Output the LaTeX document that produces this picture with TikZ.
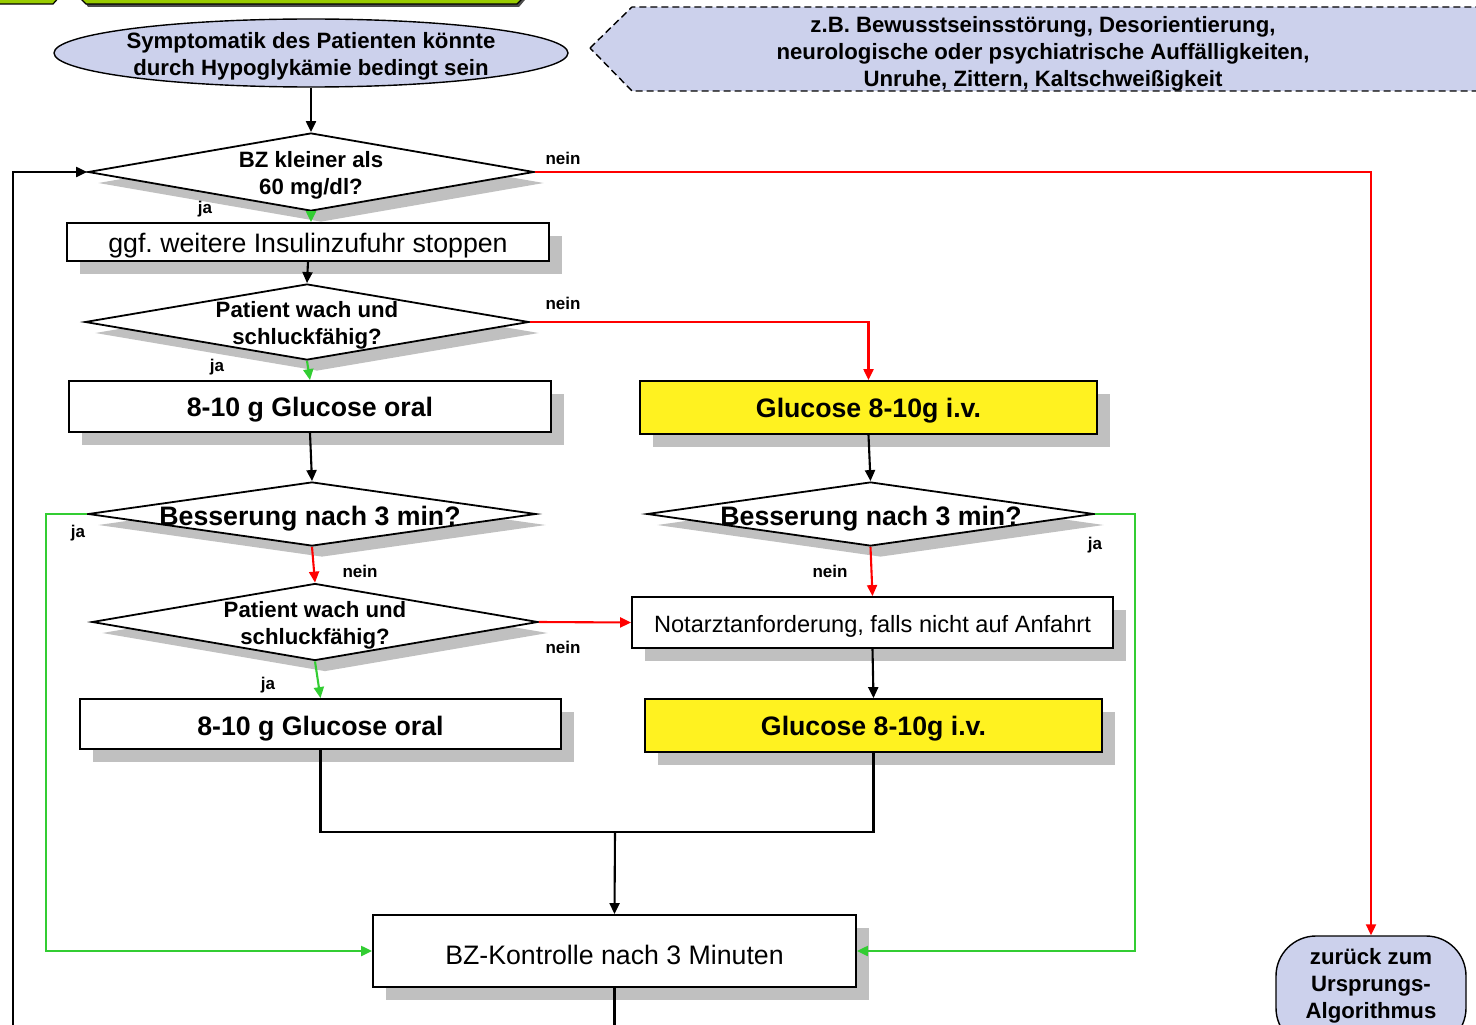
\documentclass[tikz,border=0pt]{standalone}
\usepackage{fontspec}
\setmainfont{Liberation Sans}
\usetikzlibrary{arrows.meta,shapes.geometric,shadows}
\frenchspacing

\definecolor{lav}{RGB}{204,209,236}
\definecolor{shade}{RGB}{192,192,192}
\definecolor{yel}{RGB}{255,242,32}
\definecolor{grn}{RGB}{50,205,50}
\definecolor{leaf}{RGB}{153,204,0}
\definecolor{rd}{RGB}{255,0,0}

\tikzset{
  conn/.style={line width=2.1pt, -{Triangle[length=11pt,width=10pt]}},
  wire/.style={line width=2.1pt},
  no/.style={conn, draw=rd},
  ok/.style={conn, draw=grn},
  box/.style={draw, line width=1.8pt, fill=white, inner sep=0pt,
    drop shadow={opacity=1, fill=shade, shadow xshift=13pt, shadow yshift=-13pt}},
  dia/.style={diamond, draw, line width=1.8pt, fill=white, inner sep=0pt,
    drop shadow={opacity=1, fill=shade, shadow xshift=10pt, shadow yshift=-11pt}},
  txt/.style={align=center, inner sep=0pt, yshift=-3.5pt},
  bigb/.style={txt, font=\fontsize{26.7}{32}\selectfont\bfseries},
  bigr/.style={txt, font=\fontsize{26.7}{32}\selectfont},
  midb/.style={txt, font=\fontsize{22.2}{27}\selectfont\bfseries},
  lbl/.style={font=\fontsize{17}{20}\selectfont\bfseries},
}

\begin{document}
\begin{tikzpicture}[x=1pt, y=-1pt]
\useasboundingbox (0,0) rectangle (1476,1025);
\clip (0,0) rectangle (1476,1025);

% header tabs running off the top edge
\fill[black!70] (88,7) -- (519,7) -- (530,-6) -- (80,-6) -- cycle;
\draw[line width=1.2pt, fill=leaf] (-5,4) -- (53,4) -- (62,-6) -- (62,-30) -- (-5,-30) -- cycle;
\draw[line width=1.2pt, fill=leaf] (76,-6) -- (86,4) -- (517,4) -- (527,-6) -- (527,-30) -- (76,-30) -- cycle;

% start and note
\node[ellipse, draw, line width=1.4pt, fill=lav, minimum width=514pt, minimum height=68pt, inner sep=0pt]
  (ell) at (311,53) {};
\node[midb] at (ell) {Symptomatik des Patienten könnte\\durch Hypoglykämie bedingt sein};
\draw[dash pattern=on 7pt off 4pt, line width=1.4pt, fill=lav] (590,48) -- (632,7) -- (1490,7) -- (1490,91) -- (632,91) -- cycle;
\node[midb] (note) at (1043,50) {z.B. Bewusstseinsstörung, Desorientierung,\\neurologische oder psychiatrische Auffälligkeiten,\\Unruhe, Zittern, Kaltschweißigkeit};

% decisions
\node[dia, minimum width=446pt, minimum height=78pt] (d1) at (311,172) {};
\node[midb] at (d1) {BZ kleiner als\\60 mg/dl?};
\node[dia, minimum width=444pt, minimum height=76pt] (d2) at (307,322) {};
\node[midb] at (d2) {Patient wach und\\schluckfähig?};
\node[dia, minimum width=448pt, minimum height=64pt] (d3) at (312,514) {};
\node[bigb] at (310,515) {Besserung nach 3 min?};
\node[dia, minimum width=446pt, minimum height=77pt] (d4) at (315,622) {};
\node[midb] at (d4) {Patient wach und\\schluckfähig?};
\node[dia, minimum width=447pt, minimum height=64pt] (d5) at (870.5,514) {};
\node[bigb] at (871,515) {Besserung nach 3 min?};

% actions
\node[box, minimum width=482pt, minimum height=38pt] (ggf) at (308,242) {};
\node[bigr] at (ggf) {ggf. weitere Insulinzufuhr stoppen};
\node[box, minimum width=482pt, minimum height=51pt] (ora1) at (310,406.5) {};
\node[bigb] at (ora1) {8-10 g Glucose oral};
\node[box, minimum width=481pt, minimum height=50pt] (ora2) at (320.5,724) {};
\node[bigb] at ([yshift=-1pt]ora2.center) {8-10 g Glucose oral};
\node[box, fill=yel, minimum width=457pt, minimum height=53pt] (yel1) at (868.5,407.5) {};
\node[bigb] at (yel1) {Glucose 8-10g i.v.};
\node[box, minimum width=481pt, minimum height=51pt] (nota) at (872.5,622.5) {};
\node[txt, font=\fontsize{23.6}{28}\selectfont] at (nota) {Notarztanforderung, falls nicht auf Anfahrt};
\node[box, fill=yel, minimum width=457pt, minimum height=53pt] (yel2) at (873.5,725.5) {};
\node[bigb] at (yel2) {Glucose 8-10g i.v.};
\node[box, minimum width=483pt, minimum height=72pt] (bz) at (614.5,951) {};
\node[bigr] at (bz) {BZ-Kontrolle nach 3 Minuten};

% exit terminal
\node[draw, line width=1.4pt, fill=lav, rounded corners=40pt, minimum width=190pt, minimum height=112pt, inner sep=0pt]
  (term) at (1371,992) {};
\node[midb] at (1371,982) {zurück zum\\Ursprungs-\\Algorithmus};

% connectors
\coordinate (mrg) at (615,832);
\coordinate (loop) at (13,1045);
\draw[conn] (ell.south) -- (d1.north);
\draw[no] (d1.east) -| (term.north);
\draw[ok] (d1.south) -- (d1.south |- ggf.north);
\draw[conn] (ggf.south) -- (d2.north);
\draw[no] (d2.east) -| (yel1.north);
\draw[ok] (d2.south) -- (ora1.north);
\draw[conn] (ora1.south) -- (d3.north);
\draw[ok] (d3.west) -- ++(-41,0) |- (bz.west);
\draw[no] (d3.south) -- (d4.north);
\draw[no] (d4.east) -- (nota.west);
\draw[ok] (d4.south) -- (ora2.north);
\draw[wire] (ora2.south) |- (mrg) -| (yel2.south);
\draw[conn] (mrg) -- (bz.north);
\draw[conn] (yel1.south) -- (d5.north);
\draw[ok] (d5.east) -- ++(40,0) |- (bz.east);
\draw[no] (d5.south) -- (nota.north);
\draw[conn] (nota.south) -- (yel2.north);
\draw[conn] (bz.south) |- (loop) |- (d1.west);

% branch labels
\node[lbl] at (563,158) {nein};
\node[lbl] at (205,209) {ja};
\node[lbl] at (563,303) {nein};
\node[lbl] at (217,367) {ja};
\node[lbl] at (78,533) {ja};
\node[lbl] at (360,571) {nein};
\node[lbl] at (563,647) {nein};
\node[lbl] at (268,685) {ja};
\node[lbl] at (1095,545) {ja};
\node[lbl] at (830,571) {nein};
\end{tikzpicture}
\end{document}
